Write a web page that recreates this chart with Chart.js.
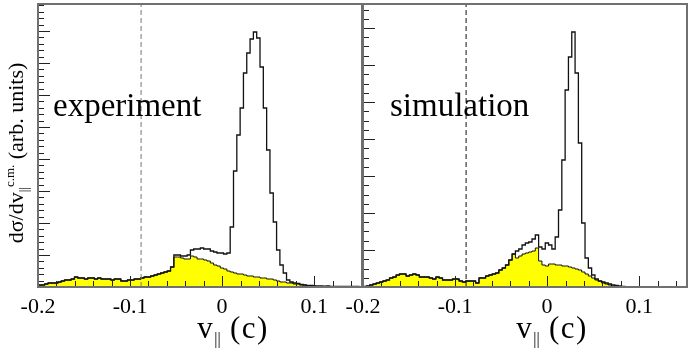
<!DOCTYPE html>
<html>
<head>
<meta charset="utf-8">
<title>v-parallel distributions</title>
<script src="https://cdn.jsdelivr.net/npm/chart.js@4.4.0/dist/chart.umd.min.js"></script>
<style>
  html, body { margin: 0; padding: 0; background: #fff; }
  #wrap { position: relative; width: 692px; height: 352px; overflow: hidden;
          font-family: 'Liberation Serif', 'Times New Roman', serif; color: #000; }
  canvas { position: absolute; left: 0; top: 0; }
  .txt { position: absolute; white-space: nowrap; line-height: 1; }
  .big { font-size: 33px; }
  .xt { font-size: 31px; width: 140px; text-align: center; letter-spacing: 1.5px; }
  .xt sub { font-size: 16px; vertical-align: baseline; position: relative; top: 6px; letter-spacing: 0; }
  .yt { font-size: 22px; width: 260px; height: 22px; text-align: center; transform: rotate(-90deg); }
  .yt sub { font-size: 13px; vertical-align: baseline; position: relative; top: 5px; }
  .yt sup { font-size: 13px; vertical-align: baseline; position: relative; top: -9px; }
</style>
</head>
<body>
<div id="wrap">
  <canvas id="expChart" width="692" height="352"></canvas>
  <canvas id="simChart" width="692" height="352"></canvas>
  <div class="txt yt" style="left:-114px; top:142px;">dσ/dv<sub>||</sub><sup>c.m.</sup> (arb. units)</div>
  <div class="txt big" style="left:53px; top:89px;">experiment</div>
  <div class="txt big" style="left:390px; top:89px;">simulation</div>
  <div class="txt xt" style="left:163px; top:312px;">v<sub>||</sub> (c)</div>
  <div class="txt xt" style="left:482px; top:312px;">v<sub>||</sub> (c)</div>
</div>
<script>
// histogram binning (v_parallel in units of c)
const BIN_START = -0.2;
const BIN_WIDTH = 0.0036;
const X_MIN = -0.2;
const X_MAX = 0.152;
const Y_MAX = 283;
const X_TICKS = [-0.2, -0.1, 0, 0.1];
const X_TICK_LABELS = ['-0.2', '-0.1', '0', '0.1'];
const CUT = -0.088;

// experiment: all events (open) and selected events (yellow)
const expAll = [
    2, 2, 3, 4, 4, 4, 5, 6, 7, 7,
    8, 10, 9, 9, 8, 9, 9, 8, 9, 8,
    8, 8, 7, 8, 8, 6, 6, 7, 7, 8,
    8, 9, 10, 10, 11, 12, 13, 14, 15, 16,
    20, 32, 32, 31, 31, 32, 37, 38, 38, 39,
    38, 38, 36, 35, 34, 34, 33, 34, 60, 116,
    152, 179, 214, 234, 248, 255, 249, 220, 179, 137,
    94, 65, 37, 22, 14, 7, 5, 4, 3.5, 2.5,
    2, 1.5, 1.5, 1, 1, 1, 0.8, 1, 0.5, 0.5,
    0.5, 0.5, 0.5, 0.5, 0.5, 0.5, 0.5
];
const expSelected = [
    2, 2, 3, 4, 4, 4, 5, 6, 7, 7,
    8, 10, 9, 9, 8, 9, 9, 8, 9, 8,
    8, 8, 7, 8, 8, 6, 6, 7, 7, 8,
    8, 9, 10, 10, 11, 12, 13, 14, 15, 16,
    20, 30, 30, 29, 28, 28, 31, 30, 28, 28,
    27, 26, 24, 22, 21, 19, 18, 16, 15, 14,
    13, 13, 12, 11, 11, 10, 10, 9, 9, 8,
    8, 7, 6, 5, 5, 4, 4, 3, 3, 2,
    2, 1.5, 1, 1, 0.5, 0, 0, 0, 0, 0,
    0, 0, 0, 0, 0, 0, 0
];

// simulation: all events (open) and selected events (yellow)
const simAll = [
    0.5, 1, 2, 3, 4, 5, 6, 7, 9, 10,
    12, 13, 13, 11, 12, 13, 12, 10, 10, 10,
    9, 8, 10, 9, 7, 7, 7, 8, 8, 6,
    5, 6, 6, 6, 4, 9, 9, 11, 12, 13,
    14, 17, 19, 22, 27, 33, 36, 38, 42, 44,
    45, 48, 52, 40, 38, 44, 42, 38, 50, 77,
    127, 197, 230, 255, 214, 144, 64, 29, 19, 12,
    8, 6, 5, 4, 3, 2, 1.5, 1, 0.5, 0,
    0, 0, 0, 0, 0, 0, 0, 0, 0, 0,
    0, 0, 0, 0, 0, 0, 0
];
const simSelected = [
    0.5, 1, 2, 3, 4, 5, 6, 7, 9, 10,
    12, 13, 13, 11, 12, 13, 12, 10, 10, 10,
    9, 8, 10, 9, 7, 7, 7, 8, 8, 6,
    5, 6, 6, 6, 4, 9, 9, 11, 12, 13,
    14, 17, 19, 22, 27, 33, 29, 31, 33, 34,
    35, 36, 39, 26, 22, 21, 23, 23, 22, 22,
    21, 21, 20, 19, 18, 17, 15, 13, 11, 9,
    7, 6, 4, 3, 2, 1, 0.5, 0, 0, 0,
    0, 0, 0, 0, 0, 0, 0, 0, 0, 0,
    0, 0, 0, 0, 0, 0, 0
];

function histPoints(vals) {
    const pts = vals.map((v, i) => ({ x: BIN_START + i * BIN_WIDTH, y: v }));
    pts.push({ x: BIN_START + vals.length * BIN_WIDTH, y: vals[vals.length - 1] });
    return pts;
}

// inward ticks + frame, ROOT style
const frameTicks = {
    id: 'frameTicks',
    afterDatasetsDraw(chart, args, o) {
        const { ctx, chartArea: a } = chart;
        const xs = chart.scales.x, ys = chart.scales.y;
        ctx.save();
        ctx.strokeStyle = '#222';
        ctx.lineWidth = 1;
        ctx.beginPath();
        for (let i = 0; ; i++) {
            const v = X_MIN + i * 0.02;
            if (v > X_MAX + 1e-9) break;
            const px = Math.round(xs.getPixelForValue(v)) + 0.5;
            const len = i % 5 === 0 ? 11 : 6;
            ctx.moveTo(px, a.bottom);
            ctx.lineTo(px, a.bottom - len);
        }
        const step = o.yMajor / o.yMinorDiv;
        for (let i = 1; ; i++) {
            const v = i * step;
            if (v > Y_MAX) break;
            const py = Math.round(ys.getPixelForValue(v)) + 0.5;
            const len = i % o.yMinorDiv === 0 ? 12 : 6;
            ctx.moveTo(a.left, py);
            ctx.lineTo(a.left + len, py);
        }
        ctx.stroke();
        ctx.strokeStyle = '#707070';
        ctx.lineWidth = 2;
        ctx.strokeRect(a.left, a.top, a.right - a.left, a.bottom - a.top);
        ctx.restore();
    }
};

function makeChart(id, allVals, selVals, padLeft, padRight, yMajor, yMinorDiv, dashColor) {
    return new Chart(document.getElementById(id), {
        type: 'line',
        data: {
            datasets: [
                {
                    data: [{ x: CUT, y: 0 }, { x: CUT, y: Y_MAX }],
                    borderColor: dashColor,
                    borderWidth: 1,
                    borderDash: [5, 3],
                    pointRadius: 0,
                    fill: false
                },
                {
                    data: histPoints(allVals),
                    stepped: true,
                    borderColor: '#111',
                    borderWidth: 1.3,
                    pointRadius: 0,
                    fill: false
                },
                {
                    data: histPoints(selVals),
                    stepped: true,
                    borderColor: '#111',
                    borderWidth: 1,
                    backgroundColor: '#ffff00',
                    pointRadius: 0,
                    fill: 'origin'
                }
            ]
        },
        options: {
            responsive: false,
            animation: false,
            layout: { padding: { left: padLeft, right: padRight, top: 4, bottom: 0 } },
            scales: {
                x: {
                    type: 'linear',
                    min: X_MIN,
                    max: X_MAX,
                    grid: { display: false },
                    border: { display: false },
                    afterBuildTicks: s => { s.ticks = X_TICKS.map(v => ({ value: v })); },
                    afterFit: s => { s.height = 65; },
                    ticks: {
                        padding: -1,
                        maxRotation: 0,
                        autoSkip: false,
                        color: '#000',
                        font: { family: 'Liberation Serif', size: 22 },
                        callback: v => {
                            const i = X_TICKS.findIndex(t => Math.abs(t - v) < 1e-9);
                            return i >= 0 ? X_TICK_LABELS[i] : '';
                        }
                    }
                },
                y: {
                    display: false,
                    min: 0,
                    max: Y_MAX
                }
            },
            plugins: {
                legend: { display: false },
                tooltip: { enabled: false },
                frameTicks: { yMajor: yMajor, yMinorDiv: yMinorDiv }
            }
        },
        plugins: [frameTicks]
    });
}

makeChart('expChart', expAll, expSelected, 38, 330, 32, 5, '#777');
makeChart('simChart', simAll, simSelected, 363, 5, 37, 4, '#111');
</script>
</body>
</html>
